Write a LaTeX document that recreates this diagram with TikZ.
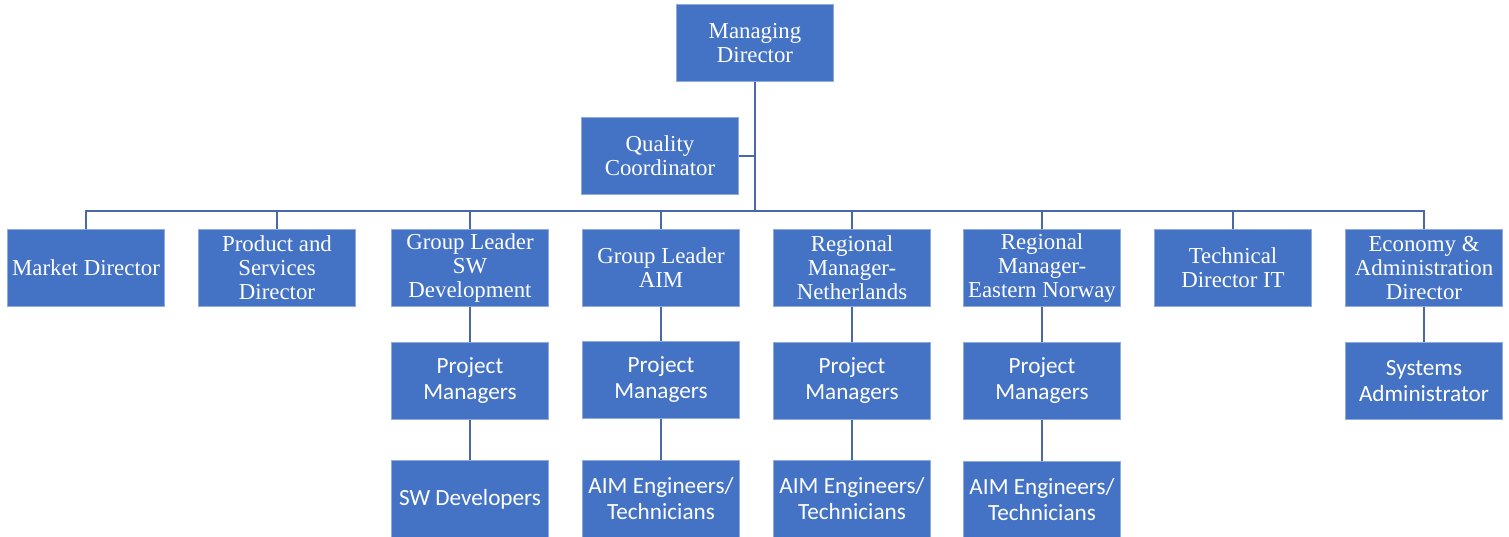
\documentclass[tikz,border=0pt]{standalone}
\usepackage{fontspec}
\setmainfont{Liberation Serif}
\newfontfamily\calibri{Carlito}
\usepackage{tikz}
\usetikzlibrary{calc,positioning}

\definecolor{orgblue}{HTML}{4472C4}
\definecolor{orgedge}{HTML}{8FAADC}
\definecolor{orgline}{HTML}{4A68A8}

\tikzset{
  post/.style={draw=orgedge, line width=0.4pt, fill=orgblue, text=white,
    minimum width=3.14cm, minimum height=1.54cm, inner sep=0pt, align=center,
    font=\fontsize{13}{13.7}\selectfont},
  staff/.style={post, font=\calibri\fontsize{13.2}{14.8}\selectfont},
  link/.style={draw=orgline, line width=1pt}
}

\begin{document}
\begin{tikzpicture}[x=0.02cm, y=-0.02cm]
  \useasboundingbox (0,0) rectangle (1509,537);

  % top of the chart
  \node[post] (md) at (755,43)  {Managing\\Director};
  \node[post] (qc) at (660,156) {Quality\\Coordinator};
  \coordinate (bus) at (0,211);

  % first level
  \node[post] (mkt)  at (86,268)   {Market Director};
  \node[post] (prod) at (277,268)  {Product and\\Services\\Director};
  \node[post] (sw)   at (470,268)  {Group Leader\\SW\\Development};
  \node[post] (aim)  at (661,268)  {Group Leader\\AIM};
  \node[post] (nl)   at (852,268)  {Regional\\Manager-\\Netherlands};
  \node[post] (no)   at (1042,268) {Regional\\Manager-\\Eastern Norway};
  \node[post] (tech) at (1233,268) {Technical\\Director IT};
  \node[post] (econ) at (1424,268) {Economy \&\\Administration\\Director};

  % second level
  \node[staff] (swpm)  at (470,381)  {Project\\Managers};
  \node[staff] (aimpm) at (661,380)  {Project\\Managers};
  \node[staff] (nlpm)  at (852,381)  {Project\\Managers};
  \node[staff] (nopm)  at (1042,381) {Project\\Managers};
  \node[staff] (sysad) at (1424,381) {Systems\\Administrator};

  % third level
  \node[staff] (swdev)  at (470,499)  {SW Developers};
  \node[staff] (aimeng) at (661,499)  {AIM Engineers/\\Technicians};
  \node[staff] (nleng)  at (852,499)  {AIM Engineers/\\Technicians};
  \node[staff] (noeng)  at (1042,500) {AIM Engineers/\\Technicians};

  % connectors
  \draw[link] (md.south) -- (md.south |- bus);
  \draw[link] (qc.east) -- (qc.east -| md.south);
  \draw[link] (mkt.north) -- (mkt.north |- bus) -| (econ.north);
  \foreach \n in {prod, sw, aim, nl, no, tech}
    \draw[link] (\n.north) -- (\n.north |- bus);
  \foreach \a/\b in {sw/swpm, swpm/swdev, aim/aimpm, aimpm/aimeng,
                     nl/nlpm, nlpm/nleng, no/nopm, nopm/noeng, econ/sysad}
    \draw[link] (\a) -- (\b);
\end{tikzpicture}
\end{document}
